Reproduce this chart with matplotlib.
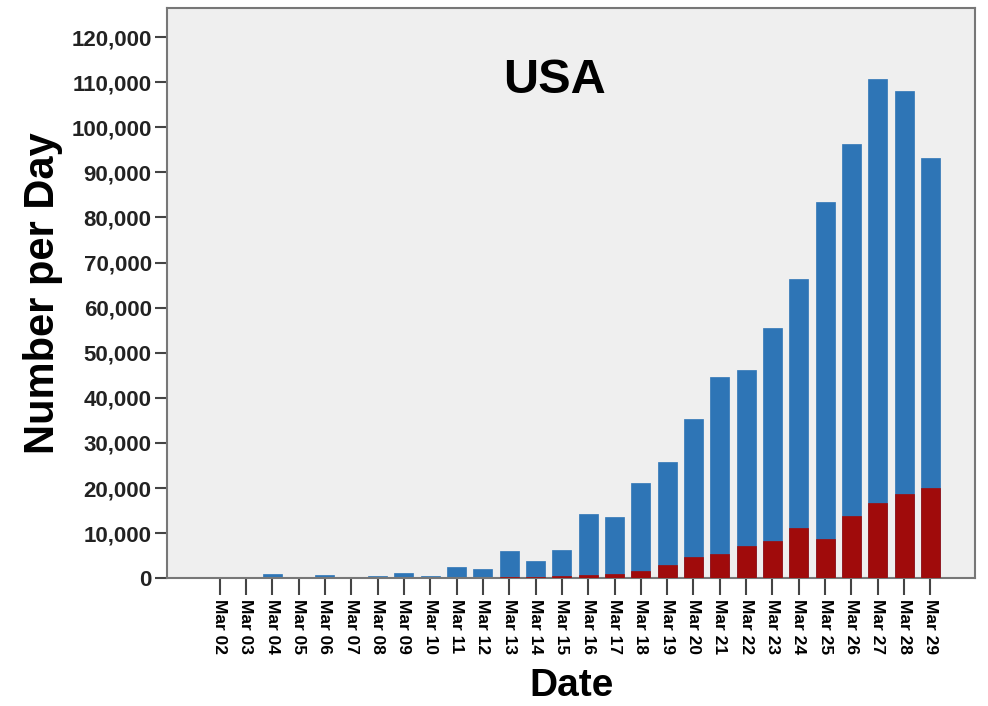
import matplotlib
matplotlib.use("Agg")
import matplotlib.pyplot as plt
from matplotlib.ticker import FuncFormatter
import numpy as np

dates = ["Mar %02d" % d for d in range(2, 30)]
total = [0, 0, 900, 100, 700, 300, 500, 1200, 600, 2500, 2000, 6000, 3800, 6200,
         14200, 13600, 21200, 25700, 35300, 44700, 46200, 55500, 66400, 83500,
         96400, 110700, 108000, 93100]
positive = [0, 0, 0, 0, 0, 0, 0, 0, 0, 0, 100, 200, 300, 600,
            700, 900, 1600, 2900, 4700, 5300, 7100, 8300, 11200, 8700,
            13800, 16600, 18600, 19900]
yticks = list(range(0, 120001, 10000))

plt.rcParams['font.family'] = ['Liberation Sans', 'DejaVu Sans']
fig = plt.figure(figsize=(9.88, 7.06), dpi=100)
ax = fig.add_axes([0.169, 0.181, 0.818, 0.808])
ax.set_facecolor('#efefef')
x = np.arange(len(dates))
ax.bar(x, total, width=0.72, color='#2e75b6', edgecolor='#2e75b6', linewidth=0.5, zorder=2)
ax.bar(x, positive, width=0.72, color='#a00b0b', edgecolor='#a00b0b', linewidth=0.5, zorder=3)
ax.set_xlim(-2.0, 28.7)
ax.set_ylim(0, 126500)
ax.set_yticks(yticks)
ax.yaxis.set_major_formatter(FuncFormatter(lambda v, p: f"{int(v):,}"))
ax.set_xticks(x)
ax.set_xticklabels(dates, rotation=-90, fontsize=12.5, fontweight='bold')
for lbl in ax.get_yticklabels():
    lbl.set_fontsize(16)
    lbl.set_fontweight('bold')
    lbl.set_color('#222222')
for s in ax.spines.values():
    s.set_color('#777777')
    s.set_linewidth(1.5)
ax.tick_params(axis='y', color='#444444', width=1.5, length=9, pad=2)
ax.tick_params(axis='x', color='#444444', width=1.5, length=12, pad=3)
ax.text(0.48, 0.872, "USA", transform=ax.transAxes, ha='center', va='center',
        fontsize=35, fontweight='bold')
ax.set_ylabel("Number per Day", fontsize=30, fontweight='bold', labelpad=6)
ax.set_xlabel("Date", fontsize=28, fontweight='bold', labelpad=10)
fig.savefig("out.png", dpi=100)
